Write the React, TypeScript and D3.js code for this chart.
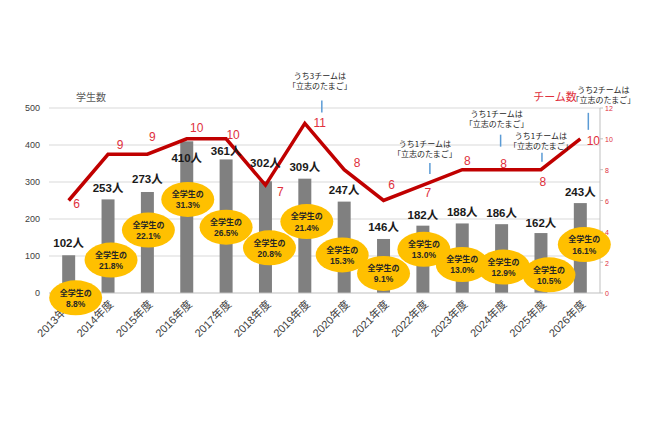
import React from "react";
import * as d3 from "d3";

const years = [
  "2013年度", "2014年度", "2015年度", "2016年度", "2017年度", "2018年度", "2019年度",
  "2020年度", "2021年度", "2022年度", "2023年度", "2024年度", "2025年度", "2026年度",
];
const students = [102, 253, 273, 410, 361, 302, 309, 247, 146, 182, 188, 186, 162, 243];
const teams = [6, 9, 9, 10, 10, 7, 11, 8, 6, 7, 8, 8, 8, 10];
const shares = ["8.8", "21.8", "22.1", "31.3", "26.5", "20.8", "21.4", "15.3", "9.1", "13.0", "13.0", "12.9", "10.5", "16.1"];
const leftTicks = [0, 100, 200, 300, 400, 500];
const rightTicks = [0, 2, 4, 6, 8, 10, 12];

// notes: which year, and how many teams were 「立志のたまご」
const noteYears = ["2019年度", "2022年度", "2024年度", "2025年度", "2026年度"];
const noteCounts = [3, 1, 1, 1, 2];

// placement tweaks (pixels)
const studentLabelDy = [-12, -11, -13, 17, -8, -18, -12, -12, -12, -11, -11, -11, -10, -11];
const teamLabelDx = [8, 12, 5, 10, 7, 15, 15, 13, 8, 5, 5, 2, 2, 13];
const teamLabelDy = [3, -9, -17, -11, -4, 7, -1, -7, -16, 8, -9, -6, 12, 2];
// bubble centres: x offset from bar centre, y in student-axis units
const bubbleDx = [7, 3, 1, 1, 0, 4, 2, -2, 0, 1, 0, 2, 8, 4];
const bubbleAt = [-13, 89, 170, 253, 178, 122, 193, 103, 53, 118, 77, 70, 49, 131];
const noteTextDx = [15, 2, -5, 0, 23];
const noteTextDy = [-47, -41, -55, -33, -49];
const noteLineDx = [17, 7, -1, 1, 8];
const noteLineTop = [-23, -22, -35, -17, -26];
const noteLineBottom = [-11, -11, -23, -8, -9];

const W = 650;
const H = 433;
const left = 49;
const right = 600;
const top = 108;
const bottom = 293;

const RED = "#c00000";
const LABEL_RED = "#e0303c";
const FONT = "'Liberation Sans', 'Noto Sans CJK JP', sans-serif";
const JP = "'Noto Sans CJK JP', sans-serif";

export default function App() {
  const x = d3.scaleBand().domain(years).range([left, right]).paddingInner(0.67).paddingOuter(0.335);
  const yL = d3.scaleLinear().domain([0, 500]).range([bottom, top]);
  const yR = d3.scaleLinear().domain([0, 12]).range([bottom, top]);
  const cx = (d: string) => (x(d) as number) + x.bandwidth() / 2;

  const line = d3
    .line<number>()
    .x((_, i) => cx(years[i]))
    .y((d) => yR(d));

  return (
    <div style={{ position: "absolute", left: 0, top: 0 }}>
      <svg width={W} height={H} style={{ background: "#fff", display: "block" }}>
        {/* gridlines */}
        {leftTicks.slice(1).map((t) => (
          <line key={t} x1={left} x2={right} y1={yL(t)} y2={yL(t)} stroke="#d9d9d9" strokeWidth={1} />
        ))}
        {leftTicks.map((t) => (
          <text key={t} x={40} y={yL(t)} dy="0.35em" textAnchor="end" fontSize={9} fill="#404040" fontFamily={FONT}>
            {t}
          </text>
        ))}
        <text x={91} y={97} dy="0.35em" textAnchor="middle" fontSize={10} fill="#595959" fontFamily={JP}>
          学生数
        </text>

        {/* right axis */}
        <line x1={right} x2={right} y1={top} y2={bottom} stroke="#bfbfbf" />
        {rightTicks.map((t) => (
          <g key={t}>
            <line x1={right} x2={right + 3} y1={yR(t)} y2={yR(t)} stroke="#bfbfbf" />
            <text x={605} y={yR(t) + 1} dy="0.35em" fontSize={7} fill={LABEL_RED} fontFamily={FONT}>
              {t}
            </text>
          </g>
        ))}
        <text x={555} y={97} dy="0.35em" textAnchor="middle" fontSize={11} fill={LABEL_RED} fontFamily={JP}>
          チーム数
        </text>

        {/* bars */}
        {students.map((v, i) => (
          <rect key={i} x={x(years[i])} y={yL(v)} width={x.bandwidth()} height={yL(0) - yL(v)} fill="#808080" />
        ))}
        <line x1={left} x2={right} y1={bottom} y2={bottom} stroke="#bfbfbf" />

        {/* x labels */}
        {years.map((d) => (
          <text
            key={d}
            transform={`translate(${cx(d) + 6},${bottom + 12}) rotate(-45)`}
            textAnchor="end"
            fontSize={11}
            fill="#404040"
            fontFamily={FONT}
          >
            {d}
          </text>
        ))}

        {/* team line */}
        <path d={line(teams) || ""} fill="none" stroke={RED} strokeWidth={3.5} strokeLinejoin="miter" />

        {/* student labels */}
        {students.map((v, i) => (
          <text
            key={i}
            x={cx(years[i])}
            y={yL(v) + studentLabelDy[i]}
            dy="0.35em"
            textAnchor="middle"
            fontSize={11.5}
            fontWeight="bold"
            fill="#1a1a1a"
            fontFamily={FONT}
          >
            {v}人
          </text>
        ))}

        {/* team labels */}
        {teams.map((v, i) => (
          <text
            key={i}
            x={cx(years[i]) + teamLabelDx[i]}
            y={yR(v) + teamLabelDy[i]}
            dy="0.35em"
            textAnchor="middle"
            fontSize={12}
            fill={LABEL_RED}
            fontFamily={FONT}
          >
            {v}
          </text>
        ))}

        {/* share bubbles */}
        {shares.map((s, i) => {
          const bx = cx(years[i]) + bubbleDx[i];
          const by = yL(bubbleAt[i]);
          return (
            <g key={i}>
              <ellipse cx={bx} cy={by} rx={26.5} ry={17.5} fill="#ffc000" />
              <text x={bx} y={by - 5} dy="0.35em" textAnchor="middle" fontSize={8} fontWeight="bold" fill="#262626" fontFamily={JP}>
                全学生の
              </text>
              <text x={bx} y={by + 6} dy="0.35em" textAnchor="middle" fontSize={8.5} fontWeight="bold" fill="#262626" fontFamily={FONT}>
                {s}%
              </text>
            </g>
          );
        })}

        {/* notes */}
        {noteYears.map((d, k) => {
          const i = years.indexOf(d);
          const px = cx(d);
          const py = yR(teams[i]);
          return (
            <g key={d}>
              <text x={px + noteTextDx[k]} y={py + noteTextDy[k]} dy="0.35em" textAnchor="middle" fontSize={8} fill="#262626" fontFamily={JP}>
                うち{noteCounts[k]}チームは
              </text>
              <text x={px + noteTextDx[k]} y={py + noteTextDy[k] + 10} dy="0.35em" textAnchor="middle" fontSize={8} fill="#262626" fontFamily={JP}>
                「立志のたまご」
              </text>
              <line
                x1={px + noteLineDx[k]}
                x2={px + noteLineDx[k]}
                y1={py + noteLineTop[k]}
                y2={py + noteLineBottom[k]}
                stroke="#5b9bd5"
                strokeWidth={1.5}
              />
            </g>
          );
        })}
      </svg>
    </div>
  );
}
